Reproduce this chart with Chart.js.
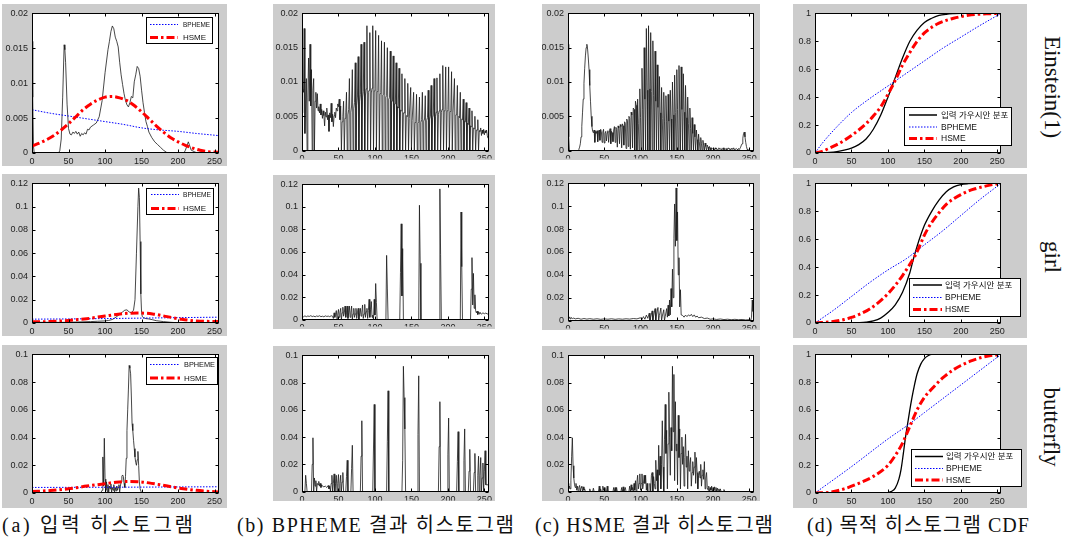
<!DOCTYPE html>
<html>
<head>
<meta charset="utf-8">
<script src="https://cdn.jsdelivr.net/npm/chart.js@4.4.1/dist/chart.umd.min.js"></script>
<style>
body { margin: 0; background: #fff; width: 1072px; height: 544px; position: relative; overflow: hidden; }
.panel { position: absolute; background: #cccccc; }
.panel canvas { position: absolute; left: 0; top: 0; }
.caption { position: absolute; top: 515px; line-height: 20px; font-family: "Liberation Serif", "Noto Sans CJK KR", serif; font-size: 20px; color: #111; white-space: nowrap; letter-spacing: 0; }
.rowname { position: absolute; writing-mode: vertical-rl; transform: translate(-50%, -50%); font-family: "Liberation Serif", serif; font-size: 23px; color: #111; white-space: nowrap; line-height: 23px; }
</style>
</head>
<body>
<script>
// ---- axis ticks / texts ----
var xTicks = [0, 50, 100, 150, 200, 250];
var yTicksRow1 = [0, 0.005, 0.01, 0.015, 0.02];
var yTicksRow2 = [0, 0.02, 0.04, 0.06, 0.08, 0.1, 0.12];
var yTicksRow3 = [0, 0.02, 0.04, 0.06, 0.08, 0.1];
var yTicksCdf = [0, 0.2, 0.4, 0.6, 0.8, 1];
var legendHist = ['BPHEME', 'HSME'];
var legendCdf = ['입력 가우시안 분포', 'BPHEME', 'HSME'];
var rowNames = ['Einstein(1)', 'girl', 'butterfly'];
var captions = ['(a) 입력 히스토그램', '(b) BPHEME 결과 히스토그램', '(c) HSME 결과 히스토그램', '(d) 목적 히스토그램 CDF'];

// ---- (a) input histograms, [gray level, probability] ----
var einsteinInput = [[0,0.016],[1,0.008],[2,0.001],[3,0],[36,0],[38,0.0003],[40,0.002],[42,0.008],[44,0.0155],[45,0.0148],[46,0.013],[48,0.007],[50,0.0035],[52,0.0027],[54,0.0026],[56,0.003],[58,0.0028],[60,0.0031],[62,0.0027],[64,0.003],[66,0.0024],[68,0.0028],[70,0.0026],[72,0.0029],[74,0.0027],[76,0.0034],[78,0.0033],[80,0.0037],[84,0.004],[88,0.0043],[92,0.0052],[96,0.0075],[100,0.0115],[104,0.0148],[106,0.016],[108,0.0174],[110,0.0182],[112,0.0178],[114,0.0166],[116,0.016],[118,0.0152],[120,0.013],[122,0.0112],[124,0.0098],[126,0.0085],[128,0.0075],[130,0.0069],[132,0.0066],[134,0.0072],[136,0.0081],[138,0.0079],[140,0.0102],[142,0.0112],[144,0.0124],[146,0.0121],[148,0.011],[150,0.009],[152,0.0072],[154,0.0058],[156,0.0045],[158,0.0038],[160,0.003],[164,0.0022],[168,0.0016],[172,0.0012],[176,0.0008],[180,0.0004],[184,0.0001],[188,0],[208,0],[210,0.0004],[212,0.001],[214,0.0016],[216,0.001],[218,0.0004],[222,0.0002],[226,0],[255,0]];
var einsteinBpheme = [[0,0.0062],[25,0.0057],[50,0.0053],[75,0.0049],[100,0.0045],[125,0.0041],[150,0.0036],[175,0.0033],[200,0.0031],[225,0.0028],[255,0.0025]];
var einsteinHsme = [[0,0.001],[10,0.0014],[20,0.0019],[30,0.0025],[40,0.0033],[50,0.0042],[60,0.0052],[70,0.0062],[80,0.007],[90,0.0076],[100,0.008],[110,0.0081],[120,0.0079],[130,0.0075],[140,0.0068],[150,0.0059],[160,0.0049],[170,0.0039],[180,0.003],[190,0.0022],[200,0.0016],[210,0.0011],[220,0.0007],[230,0.0004],[240,0.0002],[255,0.0001]];

var girlInput = [[0,0.0005],[20,0.0006],[40,0.0005],[60,0.0008],[80,0.0012],[90,0.0015],[100,0.0018],[105,0.0022],[110,0.003],[115,0.005],[120,0.0075],[124,0.0095],[127,0.011],[130,0.0113],[133,0.0095],[136,0.0088],[139,0.011],[141,0.02],[143,0.06],[145,0.1],[146,0.116],[147,0.108],[148,0.07],[149,0.025],[150,0.009],[151,0.0055],[153,0.0045],[156,0.0038],[160,0.0035],[165,0.0028],[170,0.002],[180,0.0012],[190,0.0006],[200,0.0002],[210,0],[255,0]];
var girlBpheme = [[0,0.0033],[50,0.0035],[100,0.0038],[150,0.0042],[200,0.0046],[255,0.005]];
var girlHsme = [[0,0.001],[25,0.0013],[50,0.0022],[75,0.0037],[100,0.006],[125,0.008],[145,0.0086],[165,0.0078],[185,0.0055],[205,0.0032],[225,0.0018],[255,0.0012]];

var butterflyInput = [[0,0],[94,0],[96,0.002],[97,0.026],[98,0.005],[99,0.0395],[100,0.01],[101,0.002],[102,0.008],[103,0.001],[104,0.006],[105,0.0005],[106,0.005],[107,0.003],[108,0.0065],[109,0.0005],[110,0.004],[111,0.002],[112,0.006],[113,0],[114,0.004],[115,0.0015],[116,0.005],[117,0.002],[118,0.004],[119,0.006],[120,0.0008],[121,0.005],[122,0.008],[123,0.012],[124,0.013],[125,0.012],[126,0.007],[127,0.004],[128,0.012],[129,0.025],[130,0.045],[131,0.06],[132,0.075],[133,0.092],[134,0.09],[135,0.086],[136,0.07],[137,0.05],[138,0.045],[139,0.038],[140,0.032],[141,0.026],[142,0.022],[143,0.02],[144,0.024],[145,0.03],[146,0.02],[147,0.008],[148,0.003],[150,0],[255,0]];
var butterflyBpheme = [[0,0.004],[128,0.0042],[255,0.0045]];
var butterflyHsme = [[0,0.001],[25,0.0018],[50,0.003],[75,0.005],[100,0.0067],[115,0.0078],[130,0.0083],[145,0.0082],[160,0.0073],[175,0.006],[200,0.0036],[225,0.0019],[255,0.0007]];

// ---- (b) BPHEME result histograms ----
// one value per gray level 0..255
var einsteinBphemeOut = [
  0.0055, 0.009, 0.0085, 0.0178, 0.0025, 0.0068, 0.0105, 0, 0.0078, 0.0135, 0.0072, 0.0155, 0.0065, 0.0118, 0, 0.0088,
  0.0105, 0, 0.0072, 0.0085, 0.0062, 0.0083, 0.0058, 0.0064, 0.0055, 0.0068, 0.0052, 0.006, 0.0047, 0.0058, 0.0051, 0.0036,
  0.0056, 0.0049, 0.0062, 0.0045, 0.0052, 0.0028, 0.0055, 0.0048, 0.0069, 0.0042, 0.0053, 0.0035, 0.0051, 0.0056, 0.0048, 0.0062,
  0.0058, 0.0068, 0.0064, 0.0075,
  0.0045, 0.0065, 0, 0.0042,  0.005, 0.0072, 0, 0.0047,  0.0055, 0.0085, 0, 0.0052,  0.006, 0.0105, 0, 0.0056,
  0.0065, 0.0118, 0, 0.0061,  0.007, 0.0128, 0, 0.0066,  0.0078, 0.0137, 0, 0.0072,  0.0082, 0.0155, 0, 0.0078,
  0.0086, 0.0158, 0, 0.0081,  0.009, 0.0182, 0, 0.0085,  0.0088, 0.0172, 0, 0.0084,  0.0091, 0.0182, 0, 0.0087,
  0.009, 0.0175, 0, 0.0086,  0.0088, 0.0168, 0, 0.0083,  0.0085, 0.016, 0, 0.0081,  0.0082, 0.0158, 0, 0.0078,
  0.008, 0.015, 0, 0.0075,  0.0077, 0.0145, 0, 0.0072,  0.0072, 0.0138, 0, 0.0068,  0.0068, 0.0128, 0, 0.0064,
  0.0062, 0.012, 0, 0.0059,  0.0058, 0.0112, 0, 0.0055,  0.0055, 0.0105, 0, 0.0051,  0.005, 0.0098, 0, 0.0047,
  0.0047, 0.0092, 0, 0.0044,  0.0044, 0.0085, 0, 0.0041,  0.0042, 0.0082, 0, 0.004,  0.0042, 0.0078, 0, 0.0041,
  0.0045, 0.0085, 0, 0.0043,  0.0046, 0.008, 0, 0.0044,  0.0048, 0.0088, 0, 0.0046,  0.005, 0.0095, 0, 0.0048,
  0.0052, 0.0105, 0, 0.005,  0.0056, 0.0106, 0, 0.0053,  0.0058, 0.0112, 0, 0.0056,  0.006, 0.0124, 0, 0.0058,
  0.006, 0.0122, 0, 0.0058,  0.006, 0.0122, 0, 0.0057,  0.0058, 0.0115, 0, 0.0055,  0.0055, 0.0105, 0, 0.0052,
  0.0052, 0.0095, 0, 0.005,  0.0048, 0.0085, 0, 0.0046,  0.0045, 0.0075, 0, 0.0043,  0.0042, 0.007, 0, 0.004,
  0.0038, 0.0062, 0, 0.0036,  0.0035, 0.0058, 0, 0.0033,  0.0032, 0.005, 0, 0.003,  0.003, 0.0045, 0, 0.0029,
  0.0028, 0.0033, 0.0022, 0.003, 0.0025, 0.0031, 0.0023, 0.0029, 0.0026, 0.003, 0.0022, 0.0018
];
var girlBphemeOut = [[0,0.003],[2,0.0025],[4,0.0033],[6,0.0026],[8,0.0032],[10,0.0028],[12,0.0035],[14,0.0027],[16,0.0031],[18,0.0025],[20,0.0032],[22,0.0028],[24,0.0034],[26,0.0026],[28,0.003],[30,0.0025],[32,0.0033],[34,0.0028],[36,0.0031],[38,0.0026],[40,0.0034],[42,0.003],[43,0.001],[44,0.006],[45,0.002],[46,0.0045],[47,0.008],[48,0],[49,0.005],[50,0.009],[51,0.002],[52,0.006],[53,0.01],[54,0],[55,0.006],[56,0.011],[57,0.003],[58,0.006],[59,0.012],[60,0.002],[61,0.006],[62,0.012],[63,0.001],[64,0.006],[65,0.012],[66,0.002],[67,0.006],[68,0.012],[69,0],[70,0.005],[71,0.01],[72,0.002],[73,0.005],[74,0.01],[75,0.001],[76,0.006],[77,0.01],[78,0],[79,0.005],[80,0.01],[81,0.003],[82,0.006],[83,0.013],[84,0.001],[85,0.005],[86,0.0135],[87,0.002],[88,0.007],[89,0.01],[90,0.001],[91,0.008],[92,0.018],[93,0.002],[94,0.009],[95,0.016],[96,0.002],[97,0.004],[98,0],[99,0.018],[100,0.004],[101,0.032],[102,0.015],[103,0],[115,0],[116,0.057],[117,0.028],[118,0],[134,0],[135,0.042],[136,0.085],[137,0.021],[138,0.063],[139,0],[160,0],[161,0.1015],[162,0.05],[163,0],[188,0],[189,0.116],[190,0.058],[191,0],[217,0],[218,0.0955],[219,0.047],[220,0],[231,0],[232,0.027],[233,0.055],[234,0.013],[235,0.041],[236,0.01],[237,0.022],[238,0.008],[239,0.006],[240,0.0075],[241,0.0045],[242,0.007],[243,0.005],[244,0.0065],[246,0.0048],[248,0.006],[250,0.0052],[252,0.0058],[254,0.005],[255,0.0052]];
var butterflyBphemeOut = [[0,0],[4,0],[5,0.012],[6,0.006],[7,0],[13,0],[14,0.02],[15,0.0395],[16,0],[17,0.01],[18,0.004],[19,0.008],[20,0],[21,0.006],[22,0.005],[23,0.0075],[24,0.004],[25,0.006],[26,0.003],[27,0.005],[28,0.004],[30,0.0035],[32,0.004],[34,0.003],[36,0.0045],[37,0.002],[38,0.004],[39,0],[40,0.006],[41,0.012],[42,0],[43,0.006],[44,0.013],[45,0],[46,0.006],[47,0.012],[48,0],[49,0.006],[50,0.0125],[51,0],[52,0.006],[53,0.012],[54,0],[55,0.007],[56,0.014],[57,0],[60,0],[61,0.011],[62,0.023],[63,0],[67,0],[68,0.017],[69,0.034],[70,0],[80,0],[81,0.026],[82,0.052],[83,0],[97,0],[98,0.032],[99,0.064],[100,0],[116,0],[117,0.037],[118,0.074],[119,0],[137,0],[138,0.023],[139,0.092],[140,0.069],[141,0.046],[142,0],[158,0],[159,0.042],[160,0.085],[161,0],[187,0],[188,0.033],[189,0.066],[190,0],[199,0],[200,0.027],[201,0.054],[202,0],[212,0],[213,0.022],[214,0.044],[215,0],[221,0],[222,0.023],[223,0.046],[224,0],[228,0],[229,0.015],[230,0.031],[231,0],[235,0],[236,0.014],[237,0.028],[238,0],[240,0],[241,0.012],[242,0.026],[243,0],[244,0.012],[245,0.025],[246,0],[247,0.01],[248,0.021],[249,0],[250,0.015],[251,0.03],[252,0.005],[255,0.005]];

// ---- (c) HSME result histograms ----
var einsteinHsmeOut = [
  0.0155, 0.002, 0, 0, 0, 0, 0, 0, 0, 0, 0, 0, 0, 0, 0, 0.0002,
  0.0005, 0.001, 0.002, 0.0035, 0.0055, 0.0075, 0.0098, 0.012, 0.0138, 0.015, 0.0155, 0.0148, 0.0135, 0.0118, 0.0095, 0.0072,
  0.005, 0.0035, 0.0028, 0.0026, 0.003, 0.0012, 0.0028, 0.0025, 0.0029, 0.0013, 0.0027, 0.003, 0.0015, 0.0031, 0.0028, 0.0012,
  0.0027, 0.0031, 0.0011, 0.0025, 0.0028, 0.0014, 0.0026, 0.0029, 0.0012, 0.0027, 0.0032, 0.001, 0.0028, 0.0026, 0.0013, 0.003,
  0.0035, 0.0012, 0.0034, 0.0031, 0.0005, 0.0036, 0.0033, 0.001, 0.0038, 0.0035, 0.0004, 0.0039, 0.0036, 0.0008, 0.0042, 0.004,
  0.0003, 0.0046, 0.0043, 0.0006, 0.005, 0.0047, 0.0002, 0.0056, 0.0052, 0.0004, 0.0062, 0.006, 0, 0.0072, 0.0066, 0,
  0.0075, 0.004, 0,  0.009, 0.0048, 0,  0.012, 0.006, 0,  0.015, 0.0075, 0,  0.0178, 0.0088, 0,
  0.0182, 0.009, 0,  0.0172, 0.0086, 0,  0.016, 0.008, 0,  0.0145, 0.0072, 0,  0.0125, 0.0063, 0,
  0.0108, 0.0055, 0,  0.0092, 0.0047, 0,  0.0085, 0.0043, 0,  0.008, 0.0042, 0,  0.0082, 0.0043, 0,
  0.0088, 0.0046, 0,  0.01, 0.0052, 0,  0.011, 0.0056, 0,  0.0118, 0.006, 0,  0.0124, 0.0062, 0,
  0.0122, 0.006, 0,  0.0112, 0.0056, 0,  0.0095, 0.0048, 0,  0.0078, 0.004, 0,  0.0062, 0.0032, 0,
  0.0048, 0.0025, 0,  0.0038, 0.002, 0,  0.003, 0.0016, 0,  0.0024, 0.0013, 0,  0.0019, 0.001, 0,
  0.0015, 0.0008, 0,  0.0011, 0.0006, 0,  0.0008, 0.0005, 0,  0.0006, 0.0004, 0.0001,  0.0004, 0.0003, 0.0002,
  0.0003, 0.0001, 0.0004, 0.0002, 0.0003, 0.0001, 0.0002, 0.0004, 0.0002, 0.0003, 0.0001, 0.0003, 0.0002, 0.0004, 0.0001, 0.0003,
  0.0002, 0.0003, 0.0001, 0.0002, 0.0004, 0.0002, 0.0003, 0.0001, 0.0003, 0.0002, 0.0002, 0.0004, 0.0001, 0.0003, 0.0002, 0.0003,
  0.0002, 0.0001, 0.0003, 0.0002, 0.0003,
  0.0005, 0.0008, 0.001, 0.0018, 0.0025, 0.0027, 0.002, 0.0012, 0.0006, 0.0002,
  0, 0, 0, 0, 0, 0, 0, 0
];
var girlHsmeOut = [[0,0.0035],[1,0.002],[2,0.003],[3,0.0015],[4,0.0028],[6,0.0018],[8,0.0022],[10,0.0015],[14,0.002],[18,0.0012],[22,0.0018],[26,0.0013],[30,0.0017],[35,0.0012],[40,0.0016],[45,0.0011],[50,0.0015],[55,0.0012],[60,0.0016],[65,0.0011],[70,0.0015],[75,0.0012],[80,0.0016],[85,0.0013],[90,0.0018],[95,0.0015],[100,0.0025],[102,0.001],[104,0.0035],[106,0.0012],[108,0.0048],[110,0.002],[112,0.0065],[113,0],[114,0.003],[116,0.0085],[117,0],[118,0.004],[120,0.0105],[121,0],[122,0.005],[124,0.0115],[125,0],[126,0.0045],[128,0.011],[129,0],[130,0.004],[132,0.0095],[133,0],[134,0.0035],[136,0.0105],[137,0.003],[138,0.0135],[139,0.004],[140,0.018],[141,0.005],[142,0.028],[143,0.012],[144,0.045],[145,0.02],[146,0.072],[147,0.102],[148,0.065],[149,0.116],[150,0.07],[151,0.095],[152,0.04],[153,0.055],[154,0.012],[155,0.027],[156,0.005],[158,0.0045],[160,0.003],[162,0.0048],[164,0.0035],[166,0.005],[168,0.004],[170,0.0055],[172,0.0035],[174,0.005],[176,0.003],[178,0.004],[180,0.0025],[184,0.003],[188,0.0018],[192,0.0022],[196,0.0012],[200,0.0015],[205,0.001],[210,0.0014],[215,0.0009],[220,0.0012],[225,0.0008],[230,0.0011],[235,0.0008],[240,0.001],[245,0.0006],[250,0.0008],[252,0.0004],[253,0.003],[254,0.018],[255,0.008]];
var butterflyHsmeOut = [[0,0.006],[1,0.002],[2,0.004],[3,0.002],[4,0.008],[5,0.026],[6,0.0395],[7,0.019],[8,0.01],[9,0.005],[10,0.003],[11,0.006],[12,0.001],[13,0.004],[14,0],[15,0.003],[16,0.0045],[17,0],[18,0.003],[19,0.004],[20,0],[21,0.0035],[22,0.001],[23,0.002],[24,0],[29,0],[30,0.002],[31,0],[34,0],[35,0.0025],[36,0],[42,0],[43,0.004],[44,0],[45,0.002],[46,0],[47,0],[48,0.004],[49,0.001],[50,0.003],[51,0],[53,0],[54,0.004],[55,0],[62,0],[63,0.003],[64,0],[65,0.003],[66,0],[67,0.003],[68,0],[73,0],[74,0.003],[75,0],[76,0.0035],[77,0],[79,0.003],[80,0],[84,0],[85,0.004],[86,0],[87,0.005],[88,0.001],[89,0.003],[90,0],[91,0.006],[92,0.001],[93,0.008],[94,0],[95,0.007],[96,0.012],[97,0.002],[98,0.006],[99,0.013],[100,0.001],[101,0.006],[102,0.013],[103,0.002],[104,0.006],[105,0.012],[106,0.006],[107,0.012],[108,0.001],[109,0.006],[110,0],[112,0],[113,0.006],[114,0],[115,0.012],[116,0.014],[117,0],[118,0.011],[119,0.006],[120,0.002],[121,0.023],[122,0.008],[123,0.016],[124,0],[125,0.034],[126,0.012],[127,0.026],[128,0.002],[129,0.02],[130,0.052],[131,0.018],[132,0],[133,0.038],[134,0.064],[135,0.028],[136,0.045],[137,0.002],[138,0.035],[139,0.073],[140,0.04],[141,0.012],[142,0.047],[143,0.03],[144,0.092],[145,0.044],[146,0.086],[147,0.008],[148,0.066],[149,0.03],[150,0.035],[151,0.005],[152,0.056],[153,0.025],[154,0.046],[155,0.002],[156,0.028],[157,0.04],[158,0.02],[159,0.033],[160,0.004],[161,0.025],[162,0.042],[163,0.018],[164,0.026],[165,0.002],[166,0.03],[167,0.015],[168,0.02],[169,0.025],[170,0.004],[171,0.014],[172,0.022],[173,0.012],[174,0.018],[175,0.029],[176,0.006],[177,0.025],[178,0.014],[179,0.002],[180,0.012],[181,0.015],[182,0.01],[183,0.02],[184,0.004],[185,0.012],[186,0.016],[187,0.009],[188,0.022],[189,0.002],[190,0.01],[191,0.014],[192,0.003],[193,0.001],[194,0.004],[195,0],[196,0.003],[197,0.001],[198,0.004],[199,0],[200,0.003],[201,0.001],[202,0.0035],[203,0],[204,0.003],[205,0],[206,0.0025],[207,0],[208,0.002],[209,0],[210,0.002],[211,0],[214,0],[215,0.0015],[216,0],[255,0]];

// ---- (d) target CDFs ----
var einsteinCdfTarget = [[0,0],[10,0.001],[20,0.004],[30,0.01],[40,0.02],[50,0.035],[60,0.06],[70,0.1],[80,0.17],[90,0.27],[100,0.4],[110,0.54],[120,0.68],[130,0.8],[140,0.88],[150,0.935],[160,0.965],[170,0.985],[180,0.994],[190,0.998],[200,1],[255,1]];
var einsteinCdfBpheme = [[0,0],[10,0.07],[25,0.16],[50,0.29],[75,0.39],[100,0.48],[125,0.57],[150,0.66],[175,0.75],[200,0.83],[225,0.91],[255,1]];
var einsteinCdfHsme = [[0,0],[10,0.012],[20,0.035],[30,0.06],[40,0.09],[50,0.125],[60,0.165],[70,0.21],[80,0.265],[90,0.33],[100,0.42],[110,0.52],[120,0.63],[130,0.72],[140,0.8],[150,0.86],[160,0.9],[170,0.93],[180,0.95],[190,0.965],[200,0.977],[210,0.986],[220,0.992],[235,0.997],[255,1]];
var girlCdfTarget = [[0,0],[50,0],[60,0.002],[70,0.006],[80,0.015],[90,0.035],[100,0.075],[110,0.13],[120,0.22],[130,0.36],[135,0.46],[140,0.55],[145,0.63],[150,0.7],[160,0.8],[170,0.88],[180,0.94],[190,0.975],[200,0.992],[210,0.998],[220,1],[255,1]];
var girlCdfBpheme = [[0,0],[25,0.09],[50,0.19],[75,0.29],[100,0.38],[125,0.46],[150,0.56],[175,0.66],[200,0.77],[225,0.88],[255,1]];
var girlCdfHsme = [[0,0],[25,0.01],[40,0.025],[50,0.04],[60,0.06],[75,0.1],[90,0.16],[100,0.21],[110,0.27],[120,0.34],[130,0.42],[137,0.48],[145,0.57],[150,0.63],[160,0.72],[170,0.79],[180,0.85],[190,0.89],[200,0.92],[210,0.945],[220,0.962],[235,0.982],[245,0.993],[255,1]];
var butterflyCdfTarget = [[0,0],[95,0],[100,0.003],[105,0.012],[110,0.035],[115,0.1],[118,0.17],[121,0.28],[124,0.4],[127,0.5],[130,0.6],[133,0.69],[136,0.77],[140,0.86],[145,0.93],[150,0.97],[155,0.99],[160,1],[255,1]];
var butterflyCdfBpheme = [[0,0],[50,0.19],[100,0.39],[130,0.5],[150,0.58],[200,0.78],[255,1]];
var butterflyCdfHsme = [[0,0],[20,0.005],[40,0.03],[60,0.07],[80,0.12],[100,0.2],[110,0.27],[120,0.36],[130,0.48],[140,0.6],[150,0.69],[160,0.75],[175,0.83],[190,0.89],[200,0.92],[215,0.955],[230,0.98],[245,0.995],[255,1]];

// ---- layout (page pixels) ----
var colX = [[32, 219], [302, 490], [568, 754], [815, 1001]];
var grayX = [[2, 227], [273, 495], [542, 760], [793, 1027]];
var plotY = [
  [[13, 153], [13, 152], [13, 152], [13, 153]],
  [[183, 323], [183, 322], [183, 322], [183, 323]],
  [[353, 493], [353, 492], [353, 492], [353, 493]]
];
var grayY = [
  [[4, 166], [4, 160], [4, 160], [4, 168]],
  [[174, 336], [175, 329], [174, 330], [174, 338]],
  [[345, 508], [346, 501], [346, 501], [345, 508]]
];
var legendA = [
  { box: [146, 17, 213, 44], rows: [24.5, 37.5], line: [150, 178], text: 183 },
  { box: [146, 188, 214, 215], rows: [194.5, 208.5], line: [151, 179], text: 183 },
  { box: [146, 357, 218, 385], rows: [364.5, 378], line: [150, 180], text: 184 }
];
var legendD = [
  { box: [904, 107, 1012, 146], rows: [115, 127, 138.5], line: [909, 937], text: 941 },
  { box: [909, 278, 1021, 317], rows: [285, 297.5, 309.5], line: [913, 942], text: 945 },
  { box: [911, 449, 1022, 487], rows: [456.5, 468.5, 480], line: [915, 943], text: 946 }
];
var captionSpan = [[2, 193], [237, 514], [535, 773], [807, 1029]];
var rowCenter = [[1052, 87], [1052, 257], [1051, 427]];

var styles = {
  hist:   { borderColor: '#1a1a1a', borderWidth: 0.8 },
  bpheme: { borderColor: '#0000ff', borderWidth: 1, borderDash: [1.5, 1.5], cubicInterpolationMode: 'monotone' },
  hsme:   { borderColor: '#ff0000', borderWidth: 3, borderDash: [8, 3, 2.5, 3], cubicInterpolationMode: 'monotone' },
  target: { borderColor: '#000000', borderWidth: 1.3, cubicInterpolationMode: 'monotone' }
};

var rowTicks = [yTicksRow1, yTicksRow2, yTicksRow3];
var inputs = [
  [einsteinHsme, einsteinBpheme, einsteinInput],
  [girlHsme, girlBpheme, girlInput],
  [butterflyHsme, butterflyBpheme, butterflyInput]
];
var bOut = [einsteinBphemeOut, girlBphemeOut, butterflyBphemeOut];
var cOut = [einsteinHsmeOut, girlHsmeOut, butterflyHsmeOut];
var cdfs = [
  [einsteinCdfHsme, einsteinCdfBpheme, einsteinCdfTarget],
  [girlCdfHsme, girlCdfBpheme, girlCdfTarget],
  [butterflyCdfHsme, butterflyCdfBpheme, butterflyCdfTarget]
];

Chart.defaults.font.family = '"Liberation Sans", Arial, sans-serif';
Chart.defaults.color = '#222';

// white plot area, MATLAB-like box with inward ticks, boxed legend
var framePlugin = {
  id: 'frame',
  beforeDraw: function (chart) {
    var a = chart.chartArea, ctx = chart.ctx;
    ctx.save();
    ctx.fillStyle = '#fff';
    ctx.fillRect(a.left, a.top, a.right - a.left, a.bottom - a.top);
    ctx.restore();
  },
  afterDraw: function (chart, args, opts) {
    var a = chart.chartArea, ctx = chart.ctx;
    var L = Math.round(a.left) + 0.5, R = Math.round(a.right) - 0.5;
    var T = Math.round(a.top) + 0.5, B = Math.round(a.bottom) - 0.5;
    ctx.save();
    ctx.strokeStyle = '#000';
    ctx.lineWidth = 1;
    ctx.strokeRect(L, T, R - L, B - T);
    ctx.beginPath();
    chart.scales.x.ticks.forEach(function (t) {
      var xp = Math.round(chart.scales.x.getPixelForValue(t.value)) + 0.5;
      ctx.moveTo(xp, B); ctx.lineTo(xp, B - 3);
      ctx.moveTo(xp, T); ctx.lineTo(xp, T + 3);
    });
    chart.scales.y.ticks.forEach(function (t) {
      var yp = Math.round(chart.scales.y.getPixelForValue(t.value)) + 0.5;
      ctx.moveTo(L, yp); ctx.lineTo(L + 3, yp);
      ctx.moveTo(R, yp); ctx.lineTo(R - 3, yp);
    });
    ctx.stroke();

    var lg = opts.legend;
    if (lg) {
      var ox = opts.ox, oy = opts.oy;
      ctx.fillStyle = '#fff';
      ctx.fillRect(lg.box[0] - ox, lg.box[1] - oy, lg.box[2] - lg.box[0], lg.box[3] - lg.box[1]);
      ctx.strokeStyle = '#000';
      ctx.lineWidth = 1;
      ctx.strokeRect(lg.box[0] - ox + 0.5, lg.box[1] - oy + 0.5, lg.box[2] - lg.box[0] - 1, lg.box[3] - lg.box[1] - 1);
      opts.entries.forEach(function (e, i) {
        var ds = chart.data.datasets.filter(function (d) { return d.key === e.key; })[0];
        var y = lg.rows[i] - oy;
        ctx.save();
        ctx.strokeStyle = ds.borderColor;
        ctx.lineWidth = e.key === 'target' ? 1.5 : ds.borderWidth;
        ctx.setLineDash(ds.borderDash || []);
        ctx.beginPath();
        ctx.moveTo(lg.line[0] - ox, y);
        ctx.lineTo(lg.line[1] - ox, y);
        ctx.stroke();
        ctx.restore();
        ctx.fillStyle = '#111';
        ctx.textBaseline = 'middle';
        ctx.font = opts.fontSize + 'px "Liberation Sans", "Noto Sans CJK KR", sans-serif';
        ctx.fillText(e.label, lg.text - ox, y + 0.5, lg.box[2] - lg.text - 3);
      });
    }
    ctx.restore();
  }
};

function toPoints(arr) {
  if (typeof arr[0] === 'number') {
    return arr.map(function (y, i) { return { x: i, y: y }; });
  }
  return arr.map(function (d) { return { x: d[0], y: d[1] }; });
}

function buildPanel(col, row, series, yTicks, legend, entries) {
  var gx = grayX[col], gy = grayY[row][col];
  var px = colX[col], py = plotY[row][col];
  var w = gx[1] - gx[0], h = gy[1] - gy[0];

  var holder = document.createElement('div');
  holder.className = 'panel';
  holder.style.left = gx[0] + 'px';
  holder.style.top = gy[0] + 'px';
  holder.style.width = w + 'px';
  holder.style.height = h + 'px';
  var cv = document.createElement('canvas');
  cv.width = w; cv.height = h;
  cv.style.width = w + 'px'; cv.style.height = h + 'px';
  holder.appendChild(cv);
  document.body.appendChild(holder);

  var datasets = series.map(function (s) {
    return Object.assign({ key: s[0], data: toPoints(s[1]), pointRadius: 0, fill: false, tension: 0 }, styles[s[0]]);
  });

  return new Chart(cv, {
    type: 'line',
    data: { datasets: datasets },
    plugins: [framePlugin],
    options: {
      responsive: false,
      animation: false,
      events: [],
      layout: { padding: { top: py[0] - gy[0], right: gx[1] - px[1], left: 0, bottom: 0 } },
      plugins: {
        legend: { display: false },
        tooltip: { enabled: false },
        frame: { legend: legend, entries: entries, ox: gx[0], oy: gy[0], fontSize: col === 3 ? 8.5 : 8 }
      },
      scales: {
        x: {
          type: 'linear', min: 0, max: col === 3 ? 255 : 256,
          afterBuildTicks: function (s) { s.ticks = xTicks.map(function (v) { return { value: v }; }); },
          afterFit: function (s) { s.height = gy[1] - py[1]; },
          grid: { display: false, drawTicks: false }, border: { display: false },
          ticks: { padding: 3, maxRotation: 0, autoSkip: false, font: { size: 9 }, callback: function (v) { return String(v); } }
        },
        y: {
          type: 'linear', min: 0, max: yTicks[yTicks.length - 1],
          afterBuildTicks: function (s) { s.ticks = yTicks.map(function (v) { return { value: v }; }); },
          afterFit: function (s) { s.width = px[0] - gx[0]; },
          grid: { display: false, drawTicks: false }, border: { display: false },
          ticks: { padding: 4, autoSkip: false, font: { size: 9 }, callback: function (v) { return String(v); } }
        }
      }
    }
  });
}

var histEntries = [{ key: 'bpheme', label: legendHist[0] }, { key: 'hsme', label: legendHist[1] }];
var cdfEntries = [{ key: 'target', label: legendCdf[0] }, { key: 'bpheme', label: legendCdf[1] }, { key: 'hsme', label: legendCdf[2] }];

for (var r = 0; r < 3; r++) {
  buildPanel(0, r, [['hsme', inputs[r][0]], ['bpheme', inputs[r][1]], ['hist', inputs[r][2]]], rowTicks[r], legendA[r], histEntries);
  buildPanel(1, r, [['hist', bOut[r]]], rowTicks[r], null, null);
  buildPanel(2, r, [['hist', cOut[r]]], rowTicks[r], null, null);
  buildPanel(3, r, [['hsme', cdfs[r][0]], ['bpheme', cdfs[r][1]], ['target', cdfs[r][2]]], yTicksCdf, legendD[r], cdfEntries);
}

// captions under columns (spread to the width they take in the figure) and rotated row names
captions.forEach(function (t, i) {
  var d = document.createElement('div');
  d.className = 'caption';
  d.style.left = captionSpan[i][0] + 'px';
  d.textContent = t;
  document.body.appendChild(d);
  var w0 = d.getBoundingClientRect().width;
  var ls = (captionSpan[i][1] - captionSpan[i][0] - w0) / (t.length - 1);
  d.style.letterSpacing = ls + 'px';
});
rowNames.forEach(function (t, i) {
  var d = document.createElement('div');
  d.className = 'rowname';
  d.style.left = rowCenter[i][0] + 'px';
  d.style.top = rowCenter[i][1] + 'px';
  d.textContent = t;
  document.body.appendChild(d);
});
</script>
</body>
</html>
